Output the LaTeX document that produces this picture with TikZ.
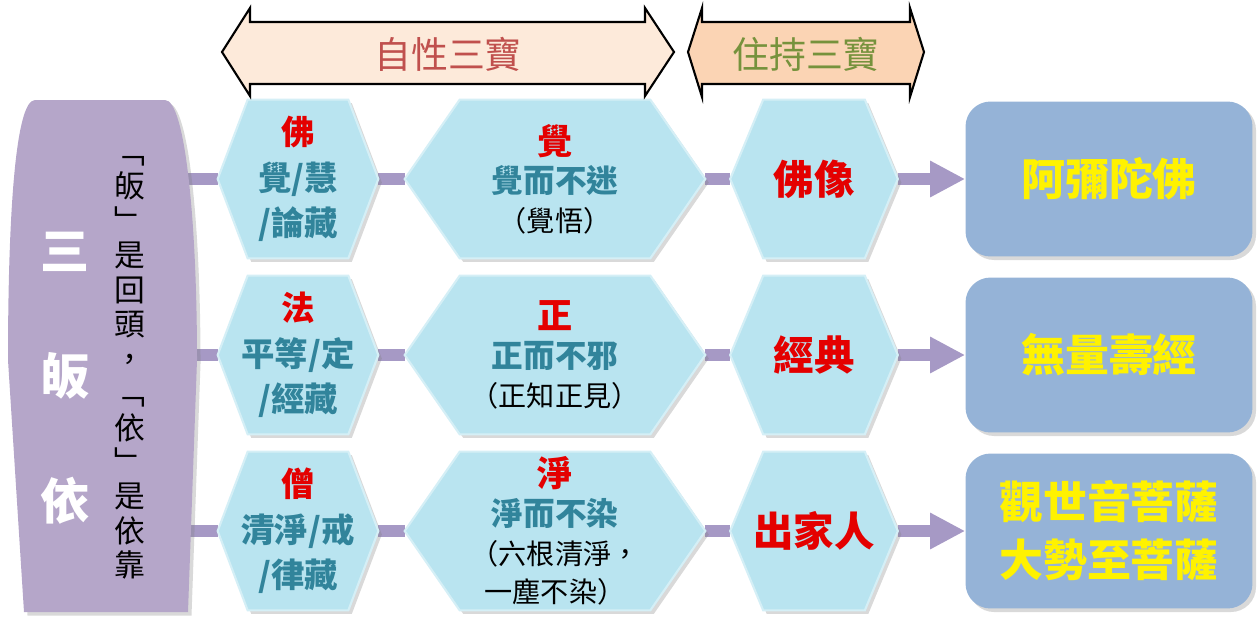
\documentclass[tikz,border=0pt]{standalone}
\usepackage{fontspec}
\setmainfont{Noto Sans CJK TC}
\usetikzlibrary{calc,shadows,arrows.meta,backgrounds}
\definecolor{hexblue}{RGB}{185,228,240}
\definecolor{tealtext}{RGB}{49,132,155}
\definecolor{guiviolet}{RGB}{181,166,201}
\definecolor{linkviolet}{RGB}{166,153,197}
\definecolor{boxblue}{RGB}{149,179,215}
\definecolor{selfpeach}{RGB}{253,234,218}
\definecolor{holdpeach}{RGB}{251,212,180}
\definecolor{selfred}{RGB}{192,80,77}
\definecolor{holdgreen}{RGB}{118,146,60}
\definecolor{treasred}{RGB}{228,0,0}

% hexagon drawn behind a text node: node name, side inset (px)
\newcommand{\hexfill}[2]{%
  \filldraw[fill=hexblue, draw=hexblue!60!white, line width=1.2pt,
    drop shadow={opacity=0.3,shadow xshift=2pt,shadow yshift=-2pt}]
    (#1.west) -- ($(#1.north west)+(#2,0)$) -- ($(#1.north east)-(#2,0)$) -- (#1.east)
    -- ($(#1.south east)-(#2,0)$) -- ($(#1.south west)+(#2,0)$) -- cycle;}

\begin{document}
\begin{tikzpicture}[x=0.02cm, y=-0.02cm,
    hexnode/.style={minimum height=3.16cm, inner sep=0pt, align=center},
    gate/.style={hexnode, minimum width=3.2cm, text=tealtext, font=\bfseries\fontsize{19}{26}\selectfont},
    sense/.style={hexnode, minimum width=6cm, text=tealtext, font=\bfseries\fontsize{18}{22}\selectfont},
    hold/.style={hexnode, minimum width=3.34cm, text=treasred, font=\bfseries\fontsize{23}{28}\selectfont},
    goal/.style={fill=boxblue, rounded corners=0.5cm, minimum width=5.74cm, minimum height=3.1cm,
      align=center, text=yellow, font=\bfseries\fontsize{25}{33}\selectfont,
      drop shadow={opacity=0.3,shadow xshift=2pt,shadow yshift=-2pt}},
    banner/.style={draw=black, line width=1.2pt},
    link/.style={draw=linkviolet, line width=0.24cm}]
\useasboundingbox (0,0) rectangle (1257,619);

% left panel
\fill[guiviolet, drop shadow={opacity=0.3,shadow xshift=2pt,shadow yshift=-2pt}]
  (35,100) -- (165,100) .. controls (185,100) and (197,220) .. (197,360)
  -- (188,612) -- (24,612) -- (8,360) .. controls (8,220) and (15,100) .. (35,100) -- cycle;
\node[align=center, text=white, font=\bfseries\fontsize{28}{71}\selectfont] (title) at (65,378) {三\\皈\\依};
\node[align=center, font=\fontsize{17.5}{19.6}\selectfont] (vtext) at (130,368)
  {﹁\\皈\\﹂\\是\\回\\頭\\，\\﹁\\依\\﹂\\是\\依\\靠};

% top banners
\filldraw[banner, fill=selfpeach] (222,52) -- (250,8) -- (250,22) -- (645,22) -- (645,8) -- (674,52)
  -- (645,96) -- (645,84) -- (250,84) -- (250,96) -- cycle;
\filldraw[banner, fill=holdpeach] (688,52) -- (702,8) -- (702,22) -- (910,22) -- (910,8) -- (924,52)
  -- (910,97) -- (910,84) -- (702,84) -- (702,97) -- cycle;
\node[text=selfred, font=\fontsize{21}{24}\selectfont] (self) at (448,54) {自性三寶};
\node[text=holdgreen, font=\fontsize{21}{24}\selectfont] (keep) at (806,54) {住持三寶};

% hexagons
\node[gate] (h11) at (298,179) {{\color{treasred}佛}\\覺/慧\\/論藏};
\node[gate] (h21) at (298,355) {{\color{treasred}法}\\平等/定\\/經藏};
\node[gate] (h31) at (298,531) {{\color{treasred}僧}\\清淨/戒\\/律藏};
\node[sense] (h12) at (555,179) {{\color{treasred}\fontsize{20}{22}\selectfont 覺}\\覺而不迷\\
  {\color{black}\mdseries\fontsize{16}{20}\selectfont （覺悟）}};
\node[sense] (h22) at (555,355) {{\color{treasred}\fontsize{20}{22}\selectfont 正}\\正而不邪\\
  {\color{black}\mdseries\fontsize{16}{20}\selectfont （正知正見）}};
\node[sense] (h32) at (555,531) {{\color{treasred}\fontsize{20}{22}\selectfont 淨}\\淨而不染\\
  {\color{black}\mdseries\fontsize{16}{20}\selectfont （六根清淨，}\\
  {\color{black}\mdseries\fontsize{16}{20}\selectfont 一塵不染）}};
\node[hold] (h13) at (814,179) {佛像};
\node[hold] (h23) at (814,355) {經典};
\node[hold] (h33) at (814,531) {出家人};

% boxes
\node[goal] (b1) at (1109,179) {阿彌陀佛};
\node[goal] (b2) at (1109,355) {無量壽經};
\node[goal] (b3) at (1109,531) {觀世音菩薩\\大勢至菩薩};

\coordinate (g1) at (185,179);
\coordinate (g2) at (185,355);
\coordinate (g3) at (185,531);

\begin{scope}[on background layer]
  \foreach \r in {1,2,3} {
    \draw[link] (g\r) -- (h\r1);
    \draw[link] (h\r1) -- (h\r2);
    \draw[link] (h\r2) -- (h\r3);
    \draw[link, -{Triangle[length=0.7cm,width=0.68cm]}, linkviolet] (h\r3) -- (b\r);
    \hexfill{h\r1}{30}
    \hexfill{h\r2}{55}
    \hexfill{h\r3}{33}
  }
\end{scope}
\end{tikzpicture}
\end{document}
